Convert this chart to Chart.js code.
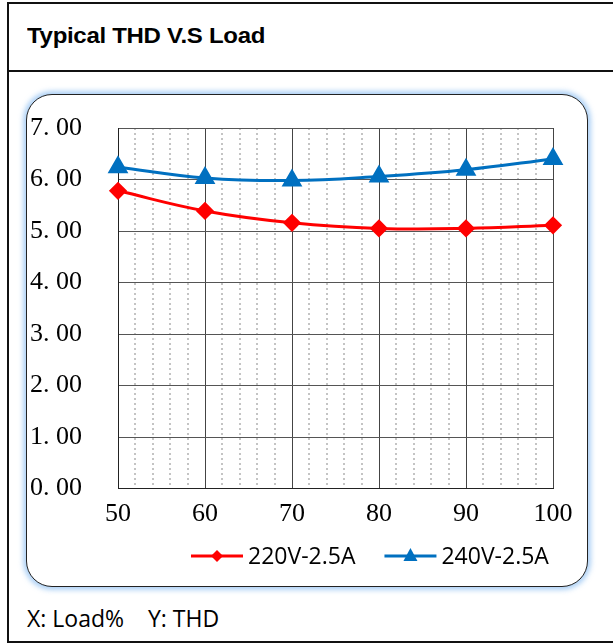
<!DOCTYPE html>
<html>
<head>
<meta charset="utf-8">
<script src="https://cdn.jsdelivr.net/npm/chart.js@4.4.1/dist/chart.umd.min.js"></script>
<style>
  html, body { margin: 0; padding: 0; background: #fff; overflow: hidden; width: 613px; height: 643px; }
  .frame { position: absolute; left: 7px; top: 2px; width: 700px; height: 641px; box-sizing: border-box; border: 2px solid #111; }
  .title-row { position: absolute; left: 0; top: 0; right: 0; height: 66px; border-bottom: 2px solid #111; }
  .title { position: absolute; left: 18px; top: 16px; font: bold 24px/28px "Liberation Sans", Arial, sans-serif; color: #000; letter-spacing: -0.3px; transform: scaleY(0.9); transform-origin: left bottom; }
  .card { position: absolute; left: 26px; top: 94px; width: 562px; height: 493px; box-sizing: border-box; border: 1.5px solid #222; border-radius: 26px; background: #fff; box-shadow: 0 0 5px 3px rgba(130, 185, 240, 0.65); }
  .caption { position: absolute; left: 27px; top: 607px; font: 23px/23px "Open Sans", sans-serif; color: #000; white-space: pre; }
  #chart { position: absolute; left: 28px; top: 96px; }
</style>
</head>
<body>
<div class="frame">
  <div class="title-row"><div class="title">Typical THD V.S Load</div></div>
</div>
<div class="card"></div>
<canvas id="chart" width="558" height="489"></canvas>
<div class="caption">X: Load%    Y: THD</div>

<script>
// --- DATA ---
const loads = [50, 60, 70, 80, 90, 100];
const thd220 = [5.78, 5.39, 5.16, 5.05, 5.05, 5.11];
const thd240 = [6.24, 6.03, 5.98, 6.06, 6.19, 6.40];
const seriesNames = ['220V-2.5A', '240V-2.5A'];
const yTicks = [0, 1, 2, 3, 4, 5, 6, 7];

const toPoints = (vals) => loads.map((x, i) => ({ x: x, y: vals[i] }));

// custom legend: line + marker + label, like the office chart
const lineLegend = {
    id: 'lineLegend',
    afterDraw(chart) {
        const ctx = chart.ctx;
        let x = 163;
        const y = 460;
        ctx.save();
        ctx.font = '23px "Open Sans", sans-serif';
        ctx.textBaseline = 'middle';
        chart.data.datasets.forEach(ds => {
            ctx.strokeStyle = ds.borderColor;
            ctx.lineWidth = 3;
            ctx.beginPath();
            ctx.moveTo(x, y);
            ctx.lineTo(x + 52, y);
            ctx.stroke();
            const cx = x + 26;
            ctx.fillStyle = ds.borderColor;
            ctx.beginPath();
            if (ds.pointStyle === 'triangle') {
                ctx.moveTo(cx, y - 8);
                ctx.lineTo(cx + 7, y + 5);
                ctx.lineTo(cx - 7, y + 5);
            } else {
                ctx.moveTo(cx, y - 6);
                ctx.lineTo(cx + 6, y);
                ctx.lineTo(cx, y + 6);
                ctx.lineTo(cx - 6, y);
            }
            ctx.closePath();
            ctx.fill();
            ctx.fillStyle = '#000';
            ctx.fillText(ds.label, x + 57, y + 1);
            x += 57 + ctx.measureText(ds.label).width + 29;
        });
        ctx.restore();
    }
};

new Chart(document.getElementById('chart'), {
    type: 'line',
    data: {
        datasets: [{
            label: seriesNames[0],
            data: toPoints(thd220),
            borderColor: '#FF0000',
            backgroundColor: '#FF0000',
            borderWidth: 3,
            pointStyle: 'rectRot',
            pointRadius: 7,
            pointHoverRadius: 7,
            tension: 0.4,
            clip: false
        }, {
            label: seriesNames[1],
            data: toPoints(thd240),
            borderColor: '#0070C0',
            backgroundColor: '#0070C0',
            borderWidth: 3,
            pointStyle: 'triangle',
            pointRadius: 9,
            pointHoverRadius: 9,
            tension: 0.4,
            clip: false
        }]
    },
    options: {
        responsive: false,
        animation: false,
        layout: { padding: { left: 2, right: 33, top: 32, bottom: 36.5 } },
        plugins: { legend: { display: false }, tooltip: { enabled: false } },
        scales: {
            x: {
                type: 'linear',
                min: loads[0],
                max: loads[loads.length - 1],
                afterFit: (s) => { s.height = 60; },
                ticks: {
                    stepSize: 10,
                    padding: 10,
                    color: '#000',
                    font: { family: '"Liberation Serif", serif', size: 26 }
                },
                grid: { color: '#444', lineWidth: 1, drawTicks: false },
                border: { color: '#222', width: 1 }
            },
            x2: {
                type: 'linear',
                position: 'bottom',
                min: loads[0],
                max: loads[loads.length - 1],
                afterFit: (s) => { s.height = 0; },
                ticks: { display: false, stepSize: 2 },
                grid: {
                    drawTicks: false,
                    lineWidth: 2,
                    color: (c) => (c.tick && c.tick.value % 10 === 0) ? 'rgba(0,0,0,0)' : '#c4c4c4'
                },
                border: { display: false, dash: [2, 3] }
            },
            y: {
                min: yTicks[0],
                max: yTicks[yTicks.length - 1],
                afterFit: (s) => { s.width = 88; },
                ticks: {
                    stepSize: 1,
                    padding: 0,
                    crossAlign: 'far',
                    color: '#000',
                    font: { family: '"Liberation Serif", serif', size: 26 },
                    callback: (v) => v.toFixed(2).replace('.', '. ')
                },
                grid: { color: '#555', lineWidth: 1, drawTicks: false },
                border: { color: '#222', width: 1 }
            }
        }
    },
    plugins: [lineLegend]
});
</script>
</body>
</html>
